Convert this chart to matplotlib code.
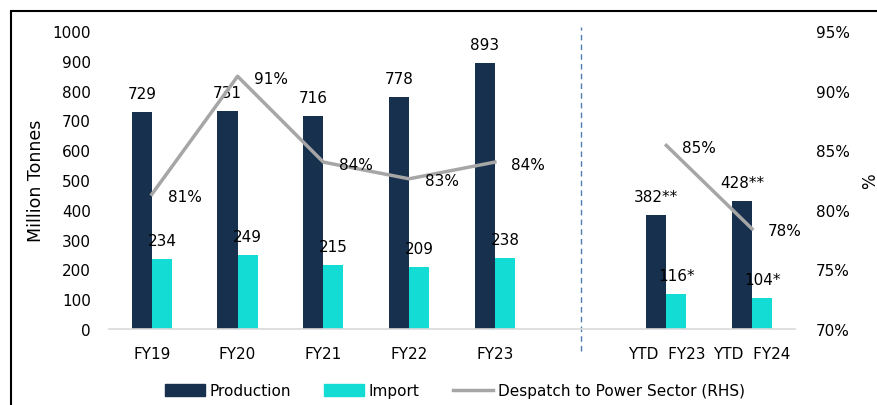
import numpy as np
import matplotlib.pyplot as plt
from matplotlib.patches import Patch, Rectangle
from matplotlib.lines import Line2D

# data (index 5 is the blank gap between full years and YTD)
categories = ["FY19", "FY20", "FY21", "FY22", "FY23", "", "YTD  FY23", "YTD  FY24"]
production = [729, 731, 716, 778, 893, np.nan, 382, 428]
imports = [234, 249, 215, 209, 238, np.nan, 116, 104]
despatch = [81.3, 91.2, 84.0, 82.6, 84.0, np.nan, 85.4, 78.4]
prod_suffix = ["", "", "", "", "", "", "**", "**"]
imp_suffix = ["", "", "", "", "", "", "*", "*"]

navy = "#17304d"
cyan = "#12dcd3"
grey = "#a6a6a6"

plt.rcParams['font.family'] = ['DejaVu Sans']
fs = 11

fig = plt.figure(figsize=(8.78, 4.06), dpi=100)
ax = fig.add_axes([0.1241, 0.1872, 0.7813, 0.734])
ax2 = ax.twinx()

x = np.arange(len(categories))
w = 0.235
ax.bar(x - w / 2, production, w, color=navy)
ax.bar(x + w / 2, imports, w, color=cyan)

for i in range(len(x)):
    if np.isnan(production[i]):
        continue
    ax.annotate(f"{production[i]:.0f}{prod_suffix[i]}", (x[i] - w / 2, production[i]),
                xytext=(0, 11), textcoords='offset pixels', ha='center', va='bottom', fontsize=fs)
    ax.annotate(f"{imports[i]:.0f}{imp_suffix[i]}", (x[i] + w / 2, imports[i]),
                xytext=(0, 11), textcoords='offset pixels', ha='center', va='bottom', fontsize=fs)

ax2.plot(x, despatch, color=grey, lw=2.5)
for i in range(len(x)):
    if np.isnan(despatch[i]):
        continue
    ax2.annotate(f"{despatch[i]:.0f}%", (x[i], despatch[i]), xytext=(16, -2),
                 textcoords='offset pixels', ha='left', va='center', fontsize=fs)

ax.set_xlim(-0.5, 7.5)
ax.set_ylim(0, 1000)
ax.set_yticks(range(0, 1001, 100))
ax2.set_ylim(70, 95)
ax2.set_yticks(range(70, 96, 5))
ax2.set_yticklabels([f"{v}%" for v in range(70, 96, 5)])

ticks = [i for i in x if categories[i]]
ax.set_xticks(ticks)
ax.set_xticklabels([categories[i] for i in ticks])

for a in (ax, ax2):
    for s in a.spines.values():
        s.set_visible(False)
    a.tick_params(length=0, labelsize=fs)
ax.spines['bottom'].set_visible(True)
ax.spines['bottom'].set_color("#d9d9d9")
ax.spines['bottom'].set_linewidth(1.2)
ax.tick_params(axis='x', pad=12)
ax.tick_params(axis='y', pad=13)
ax2.tick_params(axis='y', pad=15)

ax.set_ylabel("Million Tonnes", fontsize=12.5, labelpad=5)
ax2.set_ylabel("%", fontsize=12, labelpad=8)

ax.axvline(5, ymin=-0.074, ymax=1.013, color="#4f7fb0", lw=1, ls=(0, (4, 3)), clip_on=False)

handles = [Patch(color=navy), Patch(color=cyan), Line2D([], [], color=grey, lw=2.5)]
fig.legend(handles, ["Production", "Import", "Despatch to Power Sector (RHS)"],
           loc='center', bbox_to_anchor=(0.518, 0.035), ncol=3, frameon=False, fontsize=fs,
           handlelength=2.6, handleheight=0.8, columnspacing=2.2, handletextpad=0.3)

fig.patches.append(Rectangle((11 / 878, -0.1), 1.2, 1 - 12 / 406 + 0.1, transform=fig.transFigure,
                             fill=False, edgecolor="black", lw=1.5))

fig.savefig("out.png", dpi=100)
